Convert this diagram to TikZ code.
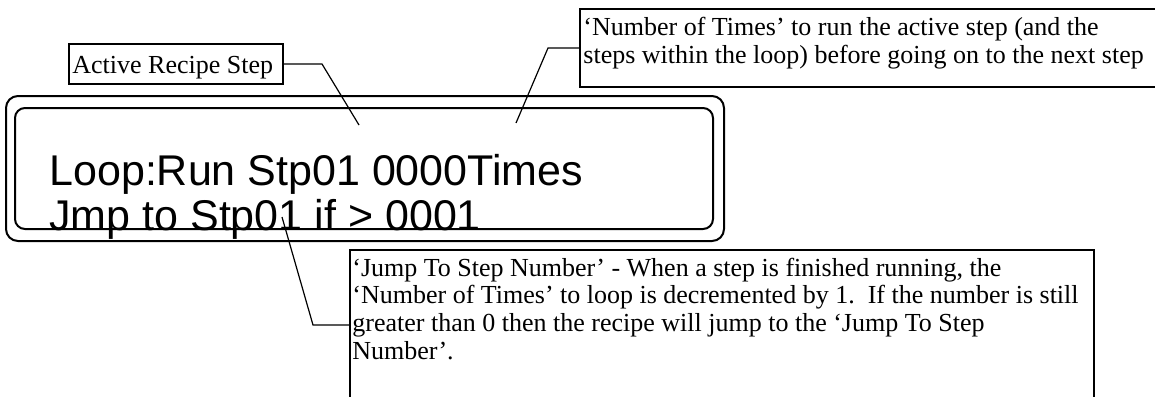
\documentclass[tikz,border=0pt]{standalone}
\usepackage{fontspec}
\setmainfont{Liberation Serif}
\newfontfamily\lcdfont{Liberation Sans}
\usetikzlibrary{positioning}

\tikzset{
  notebox/.style={draw, line width=1pt, inner sep=0pt, anchor=north west},
  notetext/.style={font=\fontsize{13}{13.8}\selectfont, align=left, anchor=base west, inner sep=0pt},
  lcdtext/.style={font=\lcdfont\fontsize{21.5}{22.5}\selectfont, align=left, anchor=base west, inner sep=0pt},
  lcdframe/.style={line width=1pt},
  leader/.style={line width=0.6pt}
}

\begin{document}
\begin{tikzpicture}[x=0.5pt, y=-0.5pt]
 \clip (0,0) rectangle (1155,396);
 \fill[white] (0,0) rectangle (1155,396);

 %display text (base = last line)
 \node[lcdtext] (lcdline) at (49,230) {Loop:Run Stp01 0000Times\\Jmp to Stp01 if > 0001};

 %display frame:
 \draw[lcdframe, rounded corners=6pt] (6,96) rectangle (724,241);
 \draw[lcdframe, rounded corners=5pt] (15,108) rectangle (713,229);

 %tips of the leaders
 \coordinate (steptip) at (359,125);
 \coordinate (timestip) at (516,123);
 \coordinate (jumptip) at (282,217);

 %callout boxes (sizes in pt)
 \node[notebox, minimum width=107pt, minimum height=20pt] (activebox) at (68,43) {};
 \node[notetext] (activetext) at (72,73) {Active Recipe Step};

 \node[notebox, minimum width=310pt, minimum height=39pt] (timesbox) at (579,8) {};
 \node[notetext] (timestext) at (583,63) {‘Number of Times’ to run the active step (and the\\steps within the loop) before going on to the next step};

 \node[notebox, minimum width=372pt, minimum height=75pt] (jumpbox) at (349,249) {};
 \node[notetext] (jumptext) at (352,359) {‘Jump To Step Number’ - When a step is finished running, the\\‘Number of Times’ to loop is decremented by 1.\ \ If the number is still\\greater than 0 then the recipe will jump to the ‘Jump To Step\\Number’.};

 %leaders
 \draw[leader] (activebox.east) -- ++(38,0) -- (steptip);
 \draw[leader] (timesbox.west) -- ++(-31,0) -- (timestip);
 \draw[leader] (jumpbox.west) -- ++(-36,0) -- (jumptip);
\end{tikzpicture}
\end{document}
